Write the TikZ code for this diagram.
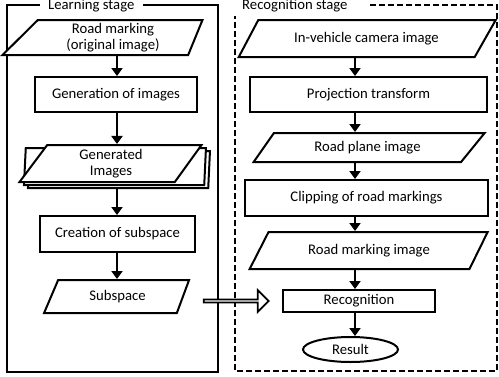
\documentclass[tikz,border=0pt]{standalone}
\usepackage{fontspec}
\setmainfont{Carlito}
\usetikzlibrary{shapes.geometric, shapes.arrows, arrows.meta, positioning}

\tikzset{
  proc/.style={draw, line width=2pt, align=center, inner sep=2pt},
  io/.style={trapezium, draw, line width=2pt, align=center, inner sep=1pt, fill=white,
             trapezium left angle=40, trapezium right angle=140, trapezium stretches body},
  flow/.style={line width=2.5pt, -{Triangle[length=8pt,width=11pt]}},
}

\begin{document}
\begin{tikzpicture}[x=1pt, y=-1pt, font=\fontsize{14.7}{16}\selectfont]
\useasboundingbox (0,0) rectangle (499,376);
\draw[line width=2pt] (40,5) -- (7,5) -- (7,372) -- (218,372) -- (218,5) -- (143,5);
\node[anchor=base west, inner sep=0] (ltitle) at (48,9.5) {Learning stage};
\draw[line width=2pt, dash pattern=on 6pt off 3pt] (370,5) -- (497,5) -- (497,371) -- (235,371) -- (235,16);
\node[anchor=base west, inner sep=0] (rtitle) at (242,9.5) {Recognition stage};

\node[io, minimum width=200pt, minimum height=35pt, trapezium left angle=41, trapezium right angle=115] (orig) at (113,37.5) {Road marking\\(original image)};
\node[proc, minimum width=162pt, minimum height=35pt] (genimg) at (116,94.5) {Generation of images};
\node[io, minimum width=182pt, minimum height=37pt, trapezium left angle=48, trapezium right angle=131] (gen3) at (119,169.5) {};
\node[io, minimum width=182pt, minimum height=37pt, trapezium left angle=48, trapezium right angle=131] (gen2) at (115,166.5) {};
\node[io, minimum width=182pt, minimum height=37pt, trapezium left angle=48, trapezium right angle=131] (gen) at (111,163.5) {Generated\\Images};
\node[proc, minimum width=155pt, minimum height=36pt] (subsp) at (117.5,234) {Creation of subspace};
\node[io, minimum width=145pt, minimum height=33pt, trapezium left angle=46, trapezium right angle=130] (space) at (117.5,296.5) {Subspace};

\node[io, minimum width=257pt, minimum height=37pt, trapezium left angle=37, trapezium right angle=145] (cam) at (366.5,38.5) {In-vehicle camera image};
\node[proc, minimum width=237pt, minimum height=35pt] (proj) at (368.5,94.5) {Projection transform};
\node[io, minimum width=231pt, minimum height=29pt, trapezium left angle=36, trapezium right angle=148] (plane) at (367.5,147.5) {Road plane image};
\node[proc, minimum width=243pt, minimum height=36pt] (clip) at (366.5,198) {Clipping of road markings};
\node[io, minimum width=238pt, minimum height=37pt, trapezium left angle=38, trapezium right angle=141] (rmimg) at (369,250.5) {Road marking image};
\node[proc, minimum width=152pt, minimum height=22pt] (recog) at (359,301) {Recognition};
\node[ellipse, draw, line width=2pt, minimum width=95pt, minimum height=25pt, inner sep=0] (result) at (350.5,349.5) {Result};

\coordinate (lx) at (117,0);
\coordinate (rx) at (355,0);
\draw[flow] (orig.south -| lx) -- (genimg.north -| lx);
\draw[flow] (genimg.south -| lx) -- (gen.north -| lx);
\draw[flow] (gen3.south -| lx) -- (subsp.north -| lx);
\draw[flow] (subsp.south -| lx) -- (space.north -| lx);
\draw[flow] (cam.south -| rx) -- (proj.north -| rx);
\draw[flow] (proj.south -| rx) -- (plane.north -| rx);
\draw[flow] (plane.south -| rx) -- (clip.north -| rx);
\draw[flow] (clip.south -| rx) -- (rmimg.north -| rx);
\draw[flow] (rmimg.south -| rx) -- (recog.north -| rx);
\draw[flow] (recog.south -| rx) -- (result.north -| rx);

\node[single arrow, draw, line width=1.8pt, fill=white, minimum height=65pt, minimum width=22pt,
      single arrow head extend=6pt, inner sep=0] (feed) at (235.5,301) {};
\end{tikzpicture}
\end{document}
